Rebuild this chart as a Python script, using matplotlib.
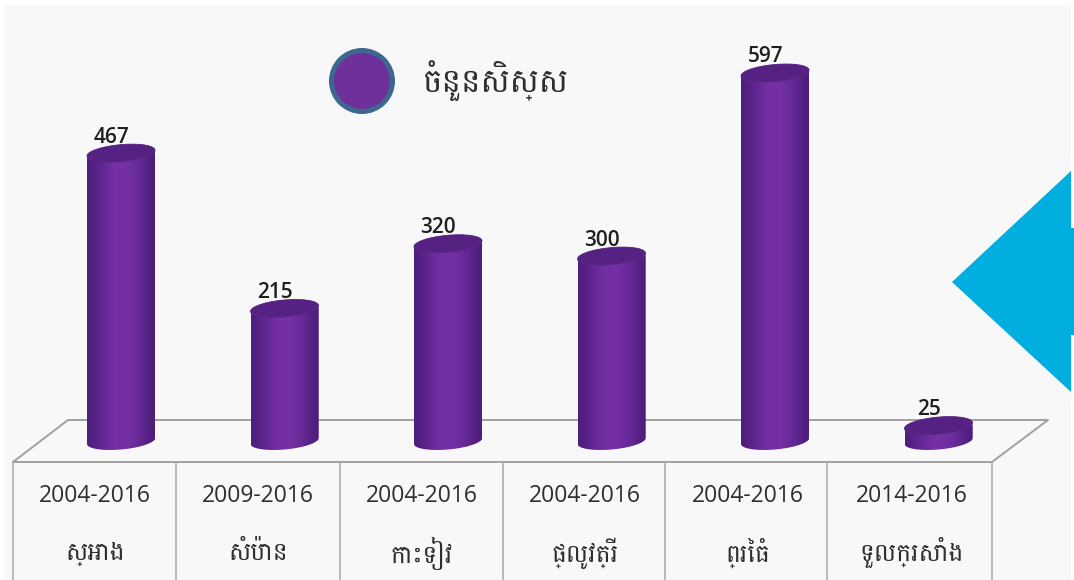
import numpy as np
import matplotlib
matplotlib.use("Agg")
import matplotlib.pyplot as plt
from matplotlib.patches import Polygon, PathPatch, Circle
from matplotlib.path import Path

# Data
places = ["ស្អាង", "សំប៉ាន", "កោះទៀវ", "ផ្លូវត្រី", "ព្រៃធំ", "ទួលក្រសាំង"]
periods = ["2004-2016", "2009-2016", "2004-2016", "2004-2016", "2004-2016", "2014-2016"]
students = [467, 215, 320, 300, 597, 25]
legend_label = "ចំនួនសិស្ស"

KHMER = ["Battambang", "Noto Sans", "DejaVu Sans"]
W, H = 1074, 580
plt.rcParams["font.family"] = ["Open Sans", "Noto Sans", "DejaVu Sans"]
fig = plt.figure(figsize=(W / 100, H / 100), dpi=100, facecolor="white")

# Overlay axes in pixel units for the frame, floor and table
bg = fig.add_axes([0, 0, 1, 1], zorder=0)
bg.set_xlim(0, W); bg.set_ylim(H, 0); bg.axis("off")
bg.add_patch(Polygon([(4, 5), (1071, 5), (1071, 580), (4, 580)], fc="#f8f8f8", ec="none"))
line = dict(color="#a0a0a0", lw=1.4, solid_capstyle="round")
bg.plot([13, 68, 1048, 992, 13], [462, 420, 420, 462, 462], **line)
for xv in [13, 176, 340, 503, 665, 827, 992]:
    bg.plot([xv, xv], [462, 580], color="#a8a8a8", lw=1.1)

# Data axes: scale places categories and values on the picture
PX_PER_UNIT = (440 - 72) / 597
SPACING = 163.5
ax = fig.add_axes([0, 0, 1, 1], zorder=1)
ax.patch.set_alpha(0)
ax.axis("off")

half_w = 34 / SPACING
b_px = 8.5
tilt = 0.085
t = np.linspace(0, 2 * np.pi, 121)
grad = np.array([0.30, 0.42, 0.58, 0.74, 0.88, 0.97, 1.0, 0.97, 0.88, 0.76, 0.6, 0.42, 0.28])
c_dark = np.array([0x3f, 0x17, 0x6e]) / 255
c_light = np.array([0x76, 0x30, 0xa6]) / 255
img = (c_dark[None, :] + grad[:, None] * (c_light - c_dark))[None, :, :]


def ellipse(cx, v):
    xs = cx + half_w * np.cos(t)
    ys = v + (b_px * np.sin(t) + tilt * 34 * np.cos(t)) / PX_PER_UNIT
    return np.column_stack([xs, ys])


xpos = np.arange(len(students))
bars = ax.bar(xpos, students, width=2 * half_w, color="#6a2a9c", zorder=2)
for x, v, rect in zip(xpos, students, bars):
    bot = ellipse(x, 0)
    top = ellipse(x, v)
    upper = top[:61]
    lower = bot[60:]
    outline = np.vstack([upper, lower, upper[:1]])
    clip = PathPatch(Path(outline), transform=ax.transData, fc="none", ec="none")
    ax.add_patch(clip)
    rect.set_clip_path(clip)
    lowy = v + 14 / PX_PER_UNIT
    im = ax.imshow(img, extent=(x - half_w, x + half_w, -14 / PX_PER_UNIT, lowy),
                   aspect="auto", interpolation="bilinear", zorder=3)
    im.set_clip_path(clip)
    ax.add_patch(Polygon(top, closed=True, fc="#552182", ec="#5c2a88", lw=0.6, zorder=4))
    ax.annotate(str(v), (x, v), xytext=(-7, 4), textcoords="offset points", ha="center",
                va="bottom", fontsize=15, fontweight="semibold", color="#1f1f1f", zorder=6)

ax.set_xlim((0 - 121) / SPACING, (W - 121) / SPACING)
ax.set_ylim((441 - H) / PX_PER_UNIT, 441 / PX_PER_UNIT)

# Table labels under each column
top_ax = fig.add_axes([0, 0, 1, 1], zorder=2)
top_ax.set_xlim(0, W); top_ax.set_ylim(H, 0); top_ax.axis("off"); top_ax.patch.set_alpha(0)
for x, period, name in zip(xpos, periods, places):
    cx = 95 + x * 163.3
    top_ax.text(cx, 496, period, ha="center", va="center", fontsize=16.5, color="#2e2e2e")
    top_ax.text(cx, 553, name, ha="center", va="center", fontsize=18, color="#2e2e2e", family=KHMER)

# Legend
top_ax.add_patch(Circle((362, 81), 30.5, fc="#70309c", ec="#3d6790", lw=3.6))
top_ax.text(423, 81, legend_label, ha="left", va="center", fontsize=23.5, color="#2e2e2e", family=KHMER)

# Cyan arrow at the right edge
top_ax.add_patch(Polygon([(1071, 171), (952, 282), (1071, 392), (1071, 335), (1074, 335),
                          (1074, 228), (1071, 228)], fc="#00aee0", ec="none", zorder=5))

fig.savefig("out.png", dpi=100, facecolor="white")
